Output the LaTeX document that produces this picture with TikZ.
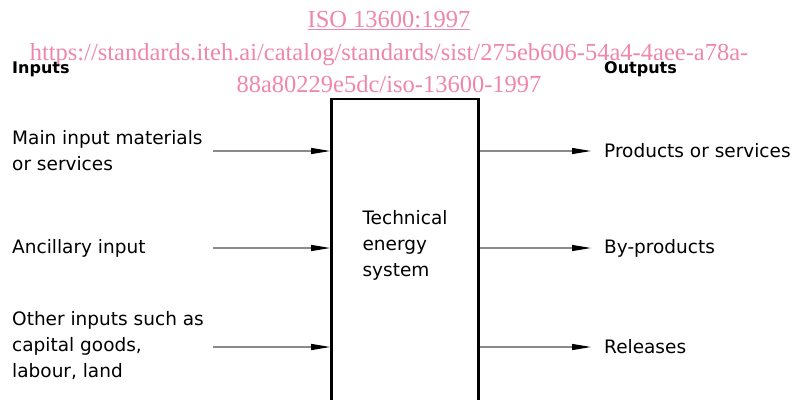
\documentclass[tikz,border=0pt]{standalone}
\usepackage{fontspec}
\setmainfont{DejaVu Sans}
\newfontfamily\wmfont{Liberation Serif}
\usetikzlibrary{arrows.meta,positioning}
\definecolor{wmpink}{HTML}{EF86AB}
\definecolor{flowgray}{HTML}{8A8A8A}

\begin{document}
\begin{tikzpicture}[x=1pt,y=1pt,font=\fontsize{18.5}{26}\selectfont,
    flow/.style={flowgray,line width=1.2pt,-{Triangle[length=19pt,width=6pt,black]}},
    lbl/.style={anchor=west,align=left,inner sep=0pt},
    head/.style={anchor=west,inner sep=0pt,font=\bfseries\fontsize{16}{20}\selectfont},
    sysbox/.style={draw,line width=2.6pt,minimum width=147pt,minimum height=330pt,inner sep=0pt}]
  \useasboundingbox (0,0) rectangle (803,-399);
  \clip (0,0) rectangle (803,-399);
  % watermark
  \node[wmpink,align=center,inner sep=0pt,font=\wmfont\fontsize{24.5}{32.5}\selectfont] (wm) at (389,-52)
    {\underline{ISO 13600:1997}\\https://standards.iteh.ai/catalog/standards/sist/275eb606-54a4-4aee-a78a-\\88a80229e5dc/iso-13600-1997};
  % headings
  \node[head] (inhead) at (12,-69) {Inputs};
  \node[head] (outhead) at (604,-69) {Outputs};
  % system
  \node[sysbox] (sys) at (405,-264) {};
  \node[align=left,inner sep=0pt] (systxt) at (405,-245) {Technical\\energy\\system};
  % inputs
  \node[lbl] (in1) at (12,-151) {Main input materials\\or services};
  \node[lbl] (in2) at (12,-248) {Ancillary input};
  \node[lbl] (in3) at (12,-346) {Other inputs such as\\capital goods,\\labour, land};
  \coordinate (a1) at (213,-151);
  \coordinate (a2) at (213,-248);
  \coordinate (a3) at (213,-347);
  \draw[flow] (a1) -- (a1 -| sys.west);
  \draw[flow] (a2) -- (a2 -| sys.west);
  \draw[flow] (a3) -- (a3 -| sys.west);
  % outputs
  \node[lbl] (out1) at (604,-151) {Products or services};
  \node[lbl] (out2) at (604,-248) {By-products};
  \node[lbl] (out3) at (604,-347) {Releases};
  \coordinate (b1) at (591,-151);
  \coordinate (b2) at (591,-248);
  \coordinate (b3) at (591,-347);
  \draw[flow] (b1 -| sys.east) -- (b1);
  \draw[flow] (b2 -| sys.east) -- (b2);
  \draw[flow] (b3 -| sys.east) -- (b3);
\end{tikzpicture}
\end{document}
